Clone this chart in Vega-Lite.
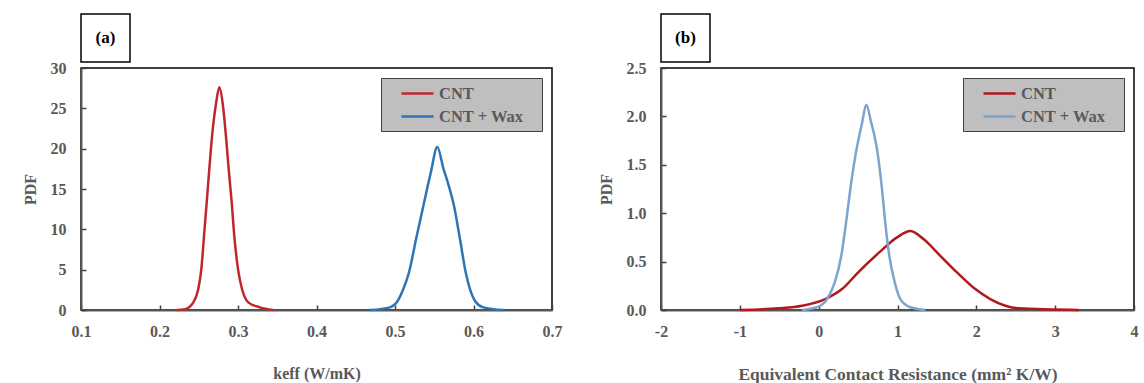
{
  "$schema": "https://vega.github.io/schema/vega-lite/v6.json",
  "background": "white",
  "padding": {"top": 13, "left": 21, "right": 5, "bottom": 0},
  "datasets": {
    "a": [
      {"series": "CNT", "x": 0.222, "y": 0},
      {"series": "CNT", "x": 0.2325, "y": 0.1},
      {"series": "CNT", "x": 0.2431, "y": 0.95},
      {"series": "CNT", "x": 0.2494, "y": 2.6},
      {"series": "CNT", "x": 0.2533, "y": 5.06},
      {"series": "CNT", "x": 0.2567, "y": 9.17},
      {"series": "CNT", "x": 0.2601, "y": 13.3},
      {"series": "CNT", "x": 0.2634, "y": 17.4},
      {"series": "CNT", "x": 0.2669, "y": 21.5},
      {"series": "CNT", "x": 0.272, "y": 25.6},
      {"series": "CNT", "x": 0.2762, "y": 27.6},
      {"series": "CNT", "x": 0.2805, "y": 25.6},
      {"series": "CNT", "x": 0.2847, "y": 21.5},
      {"series": "CNT", "x": 0.2882, "y": 17.4},
      {"series": "CNT", "x": 0.292, "y": 13.3},
      {"series": "CNT", "x": 0.2953, "y": 9.17},
      {"series": "CNT", "x": 0.3, "y": 5.06},
      {"series": "CNT", "x": 0.3051, "y": 2.6},
      {"series": "CNT", "x": 0.3131, "y": 0.95},
      {"series": "CNT", "x": 0.328, "y": 0.33},
      {"series": "CNT", "x": 0.3446, "y": 0},
      {"series": "CNT + Wax", "x": 0.468, "y": 0},
      {"series": "CNT + Wax", "x": 0.4936, "y": 0.33},
      {"series": "CNT + Wax", "x": 0.5022, "y": 0.95},
      {"series": "CNT + Wax", "x": 0.5106, "y": 2.6},
      {"series": "CNT + Wax", "x": 0.5178, "y": 4.65},
      {"series": "CNT + Wax", "x": 0.5268, "y": 8.77},
      {"series": "CNT + Wax", "x": 0.5361, "y": 12.9},
      {"series": "CNT + Wax", "x": 0.5455, "y": 17.0},
      {"series": "CNT + Wax", "x": 0.5539, "y": 20.2},
      {"series": "CNT + Wax", "x": 0.5615, "y": 17.6},
      {"series": "CNT + Wax", "x": 0.5688, "y": 15.3},
      {"series": "CNT + Wax", "x": 0.5752, "y": 12.9},
      {"series": "CNT + Wax", "x": 0.5828, "y": 8.77},
      {"series": "CNT + Wax", "x": 0.5901, "y": 4.65},
      {"series": "CNT + Wax", "x": 0.5955, "y": 2.6},
      {"series": "CNT + Wax", "x": 0.6032, "y": 0.95},
      {"series": "CNT + Wax", "x": 0.6125, "y": 0.33},
      {"series": "CNT + Wax", "x": 0.638, "y": 0}
    ],
    "b": [
      {"series": "CNT", "x": -1.0, "y": 0},
      {"series": "CNT", "x": -0.507, "y": 0.017},
      {"series": "CNT", "x": -0.211, "y": 0.044},
      {"series": "CNT", "x": 0.084, "y": 0.113},
      {"series": "CNT", "x": 0.296, "y": 0.216},
      {"series": "CNT", "x": 0.508, "y": 0.395},
      {"series": "CNT", "x": 0.762, "y": 0.59},
      {"series": "CNT", "x": 0.994, "y": 0.75},
      {"series": "CNT", "x": 1.163, "y": 0.816},
      {"series": "CNT", "x": 1.333, "y": 0.73},
      {"series": "CNT", "x": 1.543, "y": 0.56},
      {"series": "CNT", "x": 1.755, "y": 0.388},
      {"series": "CNT", "x": 1.987, "y": 0.216},
      {"series": "CNT", "x": 2.177, "y": 0.113},
      {"series": "CNT", "x": 2.368, "y": 0.044},
      {"series": "CNT", "x": 2.538, "y": 0.017},
      {"series": "CNT", "x": 3.3, "y": 0},
      {"series": "CNT + Wax", "x": -0.211, "y": 0},
      {"series": "CNT + Wax", "x": -0.021, "y": 0.028},
      {"series": "CNT + Wax", "x": 0.106, "y": 0.113},
      {"series": "CNT + Wax", "x": 0.204, "y": 0.285},
      {"series": "CNT + Wax", "x": 0.287, "y": 0.56},
      {"series": "CNT + Wax", "x": 0.347, "y": 0.9},
      {"series": "CNT + Wax", "x": 0.401, "y": 1.245},
      {"series": "CNT + Wax", "x": 0.465, "y": 1.59},
      {"series": "CNT + Wax", "x": 0.55, "y": 1.93},
      {"series": "CNT + Wax", "x": 0.604, "y": 2.12},
      {"series": "CNT + Wax", "x": 0.668, "y": 1.93},
      {"series": "CNT + Wax", "x": 0.718, "y": 1.76},
      {"series": "CNT + Wax", "x": 0.753, "y": 1.59},
      {"series": "CNT + Wax", "x": 0.804, "y": 1.245},
      {"series": "CNT + Wax", "x": 0.845, "y": 0.9},
      {"series": "CNT + Wax", "x": 0.896, "y": 0.56},
      {"series": "CNT + Wax", "x": 0.965, "y": 0.285},
      {"series": "CNT + Wax", "x": 1.036, "y": 0.113},
      {"series": "CNT + Wax", "x": 1.163, "y": 0.028},
      {"series": "CNT + Wax", "x": 1.353, "y": 0}
    ]
  },
  "config": {
    "view": {"stroke": "#000000", "strokeWidth": 1.5},
    "axis": {
      "grid": false,
      "domainColor": "#595959",
      "domainWidth": 2,
      "tickColor": "#404040",
      "tickSize": -5,
      "tickWidth": 1.5,
      "labelFont": "Liberation Serif",
      "labelFontWeight": "bold",
      "labelFontSize": 16,
      "labelColor": "#595959",
      "labelPadding": 18,
      "titleFont": "Liberation Serif",
      "titleFontWeight": "bold",
      "titleFontSize": 16,
      "titleColor": "#595959"
    },
    "axisX": {"titlePadding": 26, "labelFlush": false},
    "axisY": {"titlePadding": 12, "labelPadding": 20},
    "legend": {
      "orient": "top-right",
      "offset": 10,
      "fillColor": "#bfbfbf",
      "strokeColor": "#404040",
      "padding": 6,
      "rowPadding": 5,
      "symbolType": "M-1,0H3",
      "symbolSize": 256,
      "symbolStrokeWidth": 2.5,
      "symbolOffset": 13,
      "labelOffset": 20,
      "labelFont": "Liberation Serif",
      "labelFontWeight": "bold",
      "labelFontSize": 16.5,
      "labelColor": "#595959",
      "titleOrient": "right",
      "titlePadding": 12,
      "titleFontSize": 8
    }
  },
  "hconcat": [
    {
      "vconcat": [
        {
          "width": 49,
          "height": 48,
          "view": {"stroke": "#000000", "strokeWidth": 1.5},
          "data": {"values": [{"label": "(a)", "px": 0.5, "py": 0.5}]},
          "mark": {"type": "text", "font": "Liberation Serif", "fontWeight": "bold", "fontSize": 17, "color": "#000000"},
          "encoding": {
            "x": {"field": "px", "type": "quantitative", "scale": {"domain": [0, 1]}, "axis": null},
            "y": {"field": "py", "type": "quantitative", "scale": {"domain": [0, 1]}, "axis": null},
            "text": {"field": "label", "type": "nominal"}
          }
        },
        {
          "width": 471,
          "height": 242,
          "data": {"name": "a"},
          "mark": {"type": "line", "interpolate": "monotone", "strokeWidth": 2.5},
          "encoding": {
            "x": {"field": "x", "type": "quantitative", "scale": {"domain": [0.1, 0.7], "nice": false, "zero": false},
                  "axis": {"values": [0.1, 0.2, 0.3, 0.4, 0.5, 0.6, 0.7], "format": ".1f", "title": "keff (W/mK)"}},
            "y": {"field": "y", "type": "quantitative", "scale": {"domain": [0, 30], "nice": false},
                  "axis": {"values": [0, 5, 10, 15, 20, 25, 30], "format": "d", "title": "PDF"}},
            "color": {"field": "series", "type": "nominal",
                      "scale": {"domain": ["CNT", "CNT + Wax"], "range": ["#c0272d", "#2e75b6"]},
                      "legend": {"title": " "}}
          }
        }
      ],
      "spacing": 6,
      "bounds": "flush",
      "resolve": {
        "scale": {"color": "independent", "x": "independent", "y": "independent"},
        "legend": {"color": "independent"},
        "axis": {"x": "independent", "y": "independent"}
      }
    },
    {
      "vconcat": [
        {
          "width": 49,
          "height": 48,
          "view": {"stroke": "#000000", "strokeWidth": 1.5},
          "data": {"values": [{"label": "(b)", "px": 0.5, "py": 0.5}]},
          "mark": {"type": "text", "font": "Liberation Serif", "fontWeight": "bold", "fontSize": 17, "color": "#000000"},
          "encoding": {
            "x": {"field": "px", "type": "quantitative", "scale": {"domain": [0, 1]}, "axis": null},
            "y": {"field": "py", "type": "quantitative", "scale": {"domain": [0, 1]}, "axis": null},
            "text": {"field": "label", "type": "nominal"}
          }
        },
        {
          "width": 473,
          "height": 242,
          "data": {"name": "b"},
          "mark": {"type": "line", "interpolate": "monotone", "strokeWidth": 2.5},
          "encoding": {
            "x": {"field": "x", "type": "quantitative", "scale": {"domain": [-2, 4], "nice": false, "zero": false},
                  "axis": {"values": [-2, -1, 0, 1, 2, 3, 4], "labelExpr": "'' + datum.value", "title": "Equivalent Contact Resistance (mm² K/W)", "titleFontSize": 17.5}},
            "y": {"field": "y", "type": "quantitative", "scale": {"domain": [0, 2.5], "nice": false},
                  "axis": {"values": [0, 0.5, 1, 1.5, 2, 2.5], "format": ".1f", "title": "PDF"}},
            "color": {"field": "series", "type": "nominal",
                      "scale": {"domain": ["CNT", "CNT + Wax"], "range": ["#b0191e", "#7ba5cf"]},
                      "legend": {"title": " "}}
          }
        }
      ],
      "spacing": 6,
      "bounds": "flush",
      "resolve": {
        "scale": {"color": "independent", "x": "independent", "y": "independent"},
        "legend": {"color": "independent"},
        "axis": {"x": "independent", "y": "independent"}
      }
    }
  ],
  "spacing": 34,
  "resolve": {
    "scale": {"color": "independent", "x": "independent", "y": "independent"},
    "legend": {"color": "independent"}
  }
}
